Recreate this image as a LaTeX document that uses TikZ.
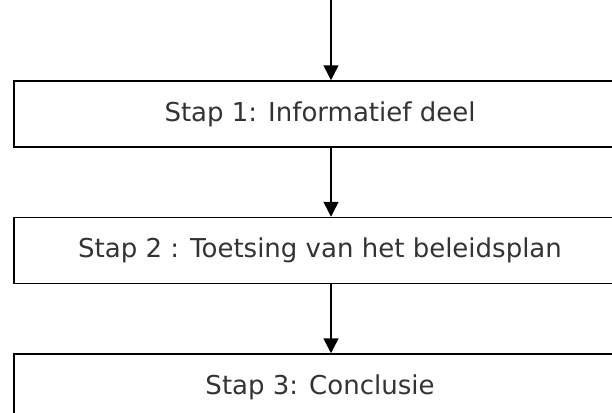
\documentclass[tikz,border=0pt]{standalone}
\usepackage{fontspec}
\setmainfont{DejaVu Sans}
\usetikzlibrary{arrows.meta}
\definecolor{txt}{HTML}{333333}
\begin{document}
\begin{tikzpicture}[x=1pt,y=1pt,
  stepbox/.style={draw=black, line width=1.5pt, minimum width=612pt, minimum height=66pt, inner sep=0pt, text=txt, font=\fontsize{26}{30}\selectfont},
  flow/.style={draw=black, line width=1.5pt, -{Triangle[width=15pt,length=15pt]}}]
\useasboundingbox (0,0) rectangle (612,-412);
\node[stepbox] (s1) at (320,-114) {Stap 1: Informatief deel};
\node[stepbox] (s2) at (320,-250.5) {Stap 2 : Toetsing van het beleidsplan};
\node[stepbox] (s3) at (320,-387) {Stap 3: Conclusie};
\coordinate (top) at (331,0);
\draw[flow] (top) -- (s1.north -| top);
\draw[flow] (s1.south -| top) -- (s2.north -| top);
\draw[flow] (s2.south -| top) -- (s3.north -| top);
\end{tikzpicture}
\end{document}
